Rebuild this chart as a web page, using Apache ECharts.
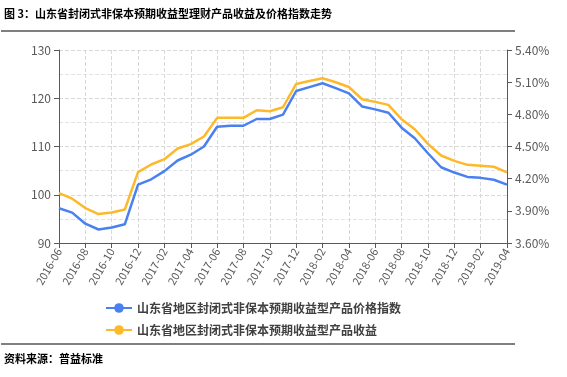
<!DOCTYPE html>
<html><head><meta charset="utf-8">
<script src="https://cdn.jsdelivr.net/npm/echarts@6/dist/echarts.min.js"></script>
<style>html,body{margin:0;padding:0;background:#fff}#c{width:567px;height:377px}</style>
</head><body><div id="c"></div>
<script>
const categories = ['2016-06','2016-07','2016-08','2016-09','2016-10','2016-11','2016-12',
 '2017-01','2017-02','2017-03','2017-04','2017-05','2017-06','2017-07','2017-08','2017-09','2017-10','2017-11','2017-12',
 '2018-01','2018-02','2018-03','2018-04','2018-05','2018-06','2018-07','2018-08','2018-09','2018-10','2018-11','2018-12',
 '2019-01','2019-02','2019-03','2019-04'];
const priceIndex = [97.2,96.3,94.0,92.8,93.2,93.9,102.1,103.2,104.9,107.1,108.3,110.0,114.1,114.3,114.3,115.7,115.7,116.6,121.5,
 122.3,123.1,122.1,121.0,118.3,117.7,117.0,113.9,111.7,108.6,105.7,104.6,103.7,103.5,103.1,102.1];
const yieldPct = [4.065,4.013,3.926,3.870,3.885,3.913,4.261,4.332,4.382,4.481,4.522,4.593,4.767,4.767,4.767,4.838,4.829,4.866,5.083,
 5.111,5.136,5.099,5.055,4.941,4.916,4.888,4.754,4.661,4.525,4.416,4.366,4.329,4.320,4.311,4.258];
const seriesNames = ['山东省地区封闭式非保本预期收益型产品价格指数','山东省地区封闭式非保本预期收益型产品收益'];
const titleText = '图 3：山东省封闭式非保本预期收益型理财产品收益及价格指数走势';
const sourceText = '资料来源：普益标准';

const FONT = '"Noto Sans CJK SC", "Noto Sans", sans-serif';
const chart = echarts.init(document.getElementById('c'));
chart.setOption({
  animation: false,
  textStyle: {fontFamily: FONT},
  graphic: [
    {type:'text', left:4, top:8, style:{text:titleText, font:'bold 11px ' + FONT, fill:'#000'}},
    {type:'line', shape:{x1:1,y1:31,x2:515,y2:31}, style:{stroke:'#000', lineWidth:1.2}},
    {type:'line', shape:{x1:1,y1:344,x2:515,y2:344}, style:{stroke:'#000', lineWidth:1.2}},
    {type:'text', left:4, top:353, style:{text:sourceText, font:'bold 11px ' + FONT, fill:'#000'}}
  ],
  grid: {left:59, right:60, top:50, bottom:134},
  legend: {
    orient:'vertical', left:100, top:297, itemGap:10, itemWidth:26, itemHeight:12,
    textStyle:{fontSize:12, fontWeight:'bold', color:'#404040', fontFamily: FONT},
    data: seriesNames
  },
  xAxis: {
    type:'category', data:categories, boundaryGap:false,
    axisLine:{lineStyle:{color:'#595959'}},
    axisTick:{show:true, interval:1, lineStyle:{color:'#595959'}},
    axisLabel:{interval:1, rotate:60, color:'#595959', fontSize:11, margin:6},
    splitLine:{show:true, interval:1, lineStyle:{color:'#d9d9d9', type:'dashed'}}
  },
  yAxis: [
    {type:'value', min:90, max:130, interval:10,
     axisLine:{show:true, lineStyle:{color:'#595959'}},
     axisTick:{show:true, lineStyle:{color:'#595959'}},
     axisLabel:{color:'#595959', fontSize:12},
     splitLine:{show:true, lineStyle:{color:'#d9d9d9', type:'dashed'}},
     minorTick:{show:false, splitNumber:2},
     minorSplitLine:{show:true, lineStyle:{color:'#e3e3e3', type:'dashed'}}
    },
    {type:'value', min:3.6, max:5.4, interval:0.3, position:'right',
     axisLine:{show:true, lineStyle:{color:'#595959'}},
     axisTick:{show:true, lineStyle:{color:'#595959'}},
     axisLabel:{color:'#595959', fontSize:12, formatter:v=>v.toFixed(2)+'%'},
     splitLine:{show:false}
    }
  ],
  series: [
    {name:seriesNames[0], type:'line', yAxisIndex:0, data:priceIndex, symbol:'circle', symbolSize:12, showSymbol:false,
     itemStyle:{color:'#4a80f0'}, lineStyle:{width:2.5, color:'#4a80f0'}},
    {name:seriesNames[1], type:'line', yAxisIndex:1, data:yieldPct, symbol:'circle', symbolSize:12, showSymbol:false,
     itemStyle:{color:'#fdb92a'}, lineStyle:{width:2.5, color:'#fdb92a'}}
  ]
});
</script></body></html>
